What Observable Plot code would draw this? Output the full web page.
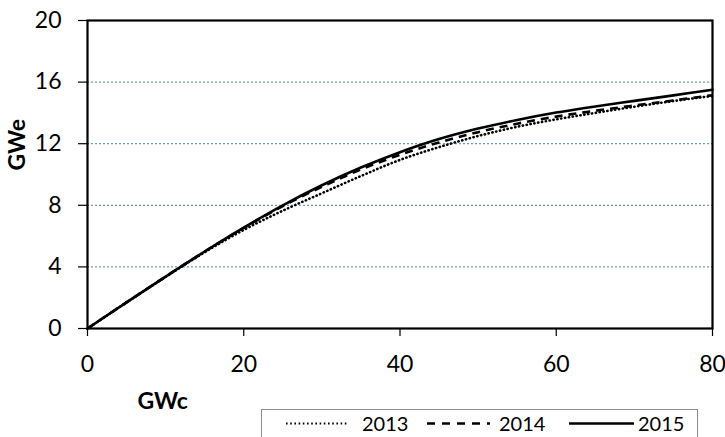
<!DOCTYPE html>
<html>
<head>
<meta charset="utf-8">
<script src="https://cdn.jsdelivr.net/npm/d3@7"></script>
<script src="https://cdn.jsdelivr.net/npm/@observablehq/plot@0.6"></script>
<style>
  html, body { margin: 0; padding: 0; background: #fff; }
  #wrap { position: relative; width: 725px; height: 437px; overflow: hidden; }
  #legend { position: absolute; left: 261px; top: 409px; width: 437px; height: 40px;
            border: 1.5px solid #8c8c8c; box-sizing: border-box; background: #fff; }
</style>
</head>
<body>
<div id="wrap"></div>
<script>
// GWc (x) values
const gwc = [0, 5, 10, 15, 20, 25, 30, 35, 40, 45, 50, 55, 60, 65, 70, 75, 80];
// GWe (y) values per year
const gwe2013 = [0, 1.7, 3.35, 4.95, 6.4, 7.65, 8.78, 9.9, 10.95, 11.78, 12.5, 13.1, 13.58, 14.0, 14.4, 14.77, 15.1];
const gwe2014 = [0, 1.7, 3.37, 5.0, 6.53, 7.95, 9.2, 10.33, 11.28, 12.08, 12.75, 13.3, 13.76, 14.14, 14.48, 14.81, 15.15];
const gwe2015 = [0, 1.7, 3.37, 5.0, 6.55, 8.0, 9.3, 10.45, 11.45, 12.3, 12.98, 13.54, 14.02, 14.42, 14.78, 15.14, 15.5];
const years = ["2013", "2014", "2015"];
const xTicks = [0, 20, 40, 60, 80];
const yTicks = [0, 4, 8, 12, 16, 20];
const gridTicks = [4, 8, 12, 16];

const seriesVals = {"2013": gwe2013, "2014": gwe2014, "2015": gwe2015};
const dash = {"2013": "0.3,3.6", "2014": "8,6", "2015": null};
const rows = years.flatMap(yr => gwc.map((x, i) => ({year: yr, x, y: seriesVals[yr][i]})));

const lineMarks = years.map(yr => Plot.line(rows.filter(d => d.year === yr), {
  x: "x", y: "y", stroke: "#000", strokeWidth: 2.6,
  strokeDasharray: dash[yr], curve: "catmull-rom", strokeLinecap: yr === "2014" ? "butt" : "round"
}));

const chart = Plot.plot({
  width: 725, height: 437,
  marginLeft: 87, marginRight: 13, marginTop: 20, marginBottom: 109,
  style: {fontFamily: "Lato, 'Open Sans', sans-serif", fontSize: "23px", color: "#000", background: "#fff"},
  x: {domain: [0, 80]},
  y: {domain: [0, 20]},
  marks: [
    Plot.gridY(gridTicks, {stroke: "#4a7ebb", strokeOpacity: 1, strokeDasharray: "2,2", strokeWidth: 1}),
    Plot.axisY(yTicks, {tickSize: 9, tickPadding: 17, label: null, strokeWidth: 1.2}),
    Plot.axisX(xTicks, {tickSize: 8, tickPadding: 19, label: null, strokeWidth: 1.2}),
    ...lineMarks,
    Plot.frame({stroke: "#000", strokeWidth: 2.2}),
    Plot.text(["GWe"], {frameAnchor: "left", dx: -70, dy: -4, rotate: -90, fontWeight: "bold", fontSize: 23}),
    Plot.text(["GWc"], {frameAnchor: "bottom-left", dx: 50, dy: 80, textAnchor: "start", fontWeight: "bold", fontSize: 23})
  ]
});
document.getElementById("wrap").appendChild(chart);

// Legend
const legend = document.createElement("div");
legend.id = "legend";
const lx = {"2013": [24, 86, 100], "2014": [165, 228, 237], "2015": [307, 372, 376]};
let svg = '<svg width="437" height="40" style="position:absolute;left:0;top:0" font-family="Lato, \'Open Sans\', sans-serif" font-size="20">';
years.forEach(yr => {
  const [a, b, t] = lx[yr];
  svg += `<line x1="${a}" x2="${b}" y1="13.5" y2="13.5" stroke="#000" stroke-width="${yr === '2013' ? 2 : 2.4}"` +
    (dash[yr] ? ` stroke-dasharray="${yr === '2013' ? '1.6,2.6' : '8,7'}"` : '') + ` />`;
  svg += `<text x="${t}" y="20.5" fill="#000">${yr}</text>`;
});
svg += '</svg>';
legend.innerHTML = svg;
document.getElementById("wrap").appendChild(legend);
</script>
</body>
</html>
